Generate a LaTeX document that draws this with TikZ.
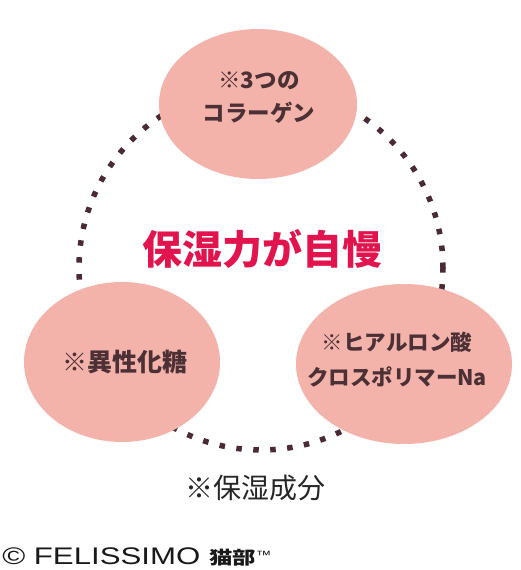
\documentclass[tikz,border=0pt]{standalone}
\usepackage{fontspec}
\setmainfont{Liberation Sans}
\newfontfamily\jp{Noto Sans CJK JP}
\usetikzlibrary{shapes.geometric}
\definecolor{peau}{HTML}{F4B3AA}
\definecolor{brun}{HTML}{4B3035}
\definecolor{points}{HTML}{4A2A33}
\definecolor{rouge}{HTML}{E2144E}
\begin{document}
\begin{tikzpicture}[x=1pt, y=-1pt,
    bulle/.style={ellipse, fill=peau, inner sep=0pt, minimum height=160pt},
    texte/.style={text=brun, align=center, inner sep=0pt},
    pointille/.style={draw=points, line width=5.5pt, dash pattern=on 5.5pt off 11.5pt}]
  \useasboundingbox (0,0) rectangle (520,570);

  % anneau en pointillés sous les bulles
  \node[circle, pointille, minimum size=364pt] (anneau) at (261,268) {};

  \node[bulle, minimum width=198pt, minimum height=150pt] (collagene) at (258,104) {};
  \node[bulle, minimum width=196pt] (sucre) at (122,362) {};
  \node[bulle, minimum width=216pt] (hyaluron) at (404,364) {};

  \node[texte, font=\jp\bfseries\fontsize{22.5}{33}\selectfont] (tcollagene) at (259,97) {※3つの\\コラーゲン};
  \node[texte, font=\jp\bfseries\fontsize{25}{30}\selectfont] (tsucre) at (125,362) {※異性化糖};
  \node[texte, font=\jp\bfseries\fontsize{21.5}{35}\selectfont] (thyaluron) at (397,360) {※ヒアルロン酸\\クロスポリマーNa};

  \node[text=rouge, font=\jp\bfseries\fontsize{40}{40}\selectfont, inner sep=0pt] (titre) at (262,249) {保湿力が自慢};
  \node[text=black!85, font=\jp\fontsize{28}{28}\selectfont, inner sep=0pt] (note) at (255,488) {※保湿成分};

  % signature
  \node[anchor=west, xscale=1.3, inner sep=0pt, text=black!90, font=\fontsize{24}{24}\selectfont] (credit) at (2,557)
    {© FELISSIMO {\jp\bfseries\fontsize{18}{18}\selectfont 猫部}{\fontsize{12}{12}\selectfont\raisebox{5pt}{™}}};
\end{tikzpicture}
\end{document}
